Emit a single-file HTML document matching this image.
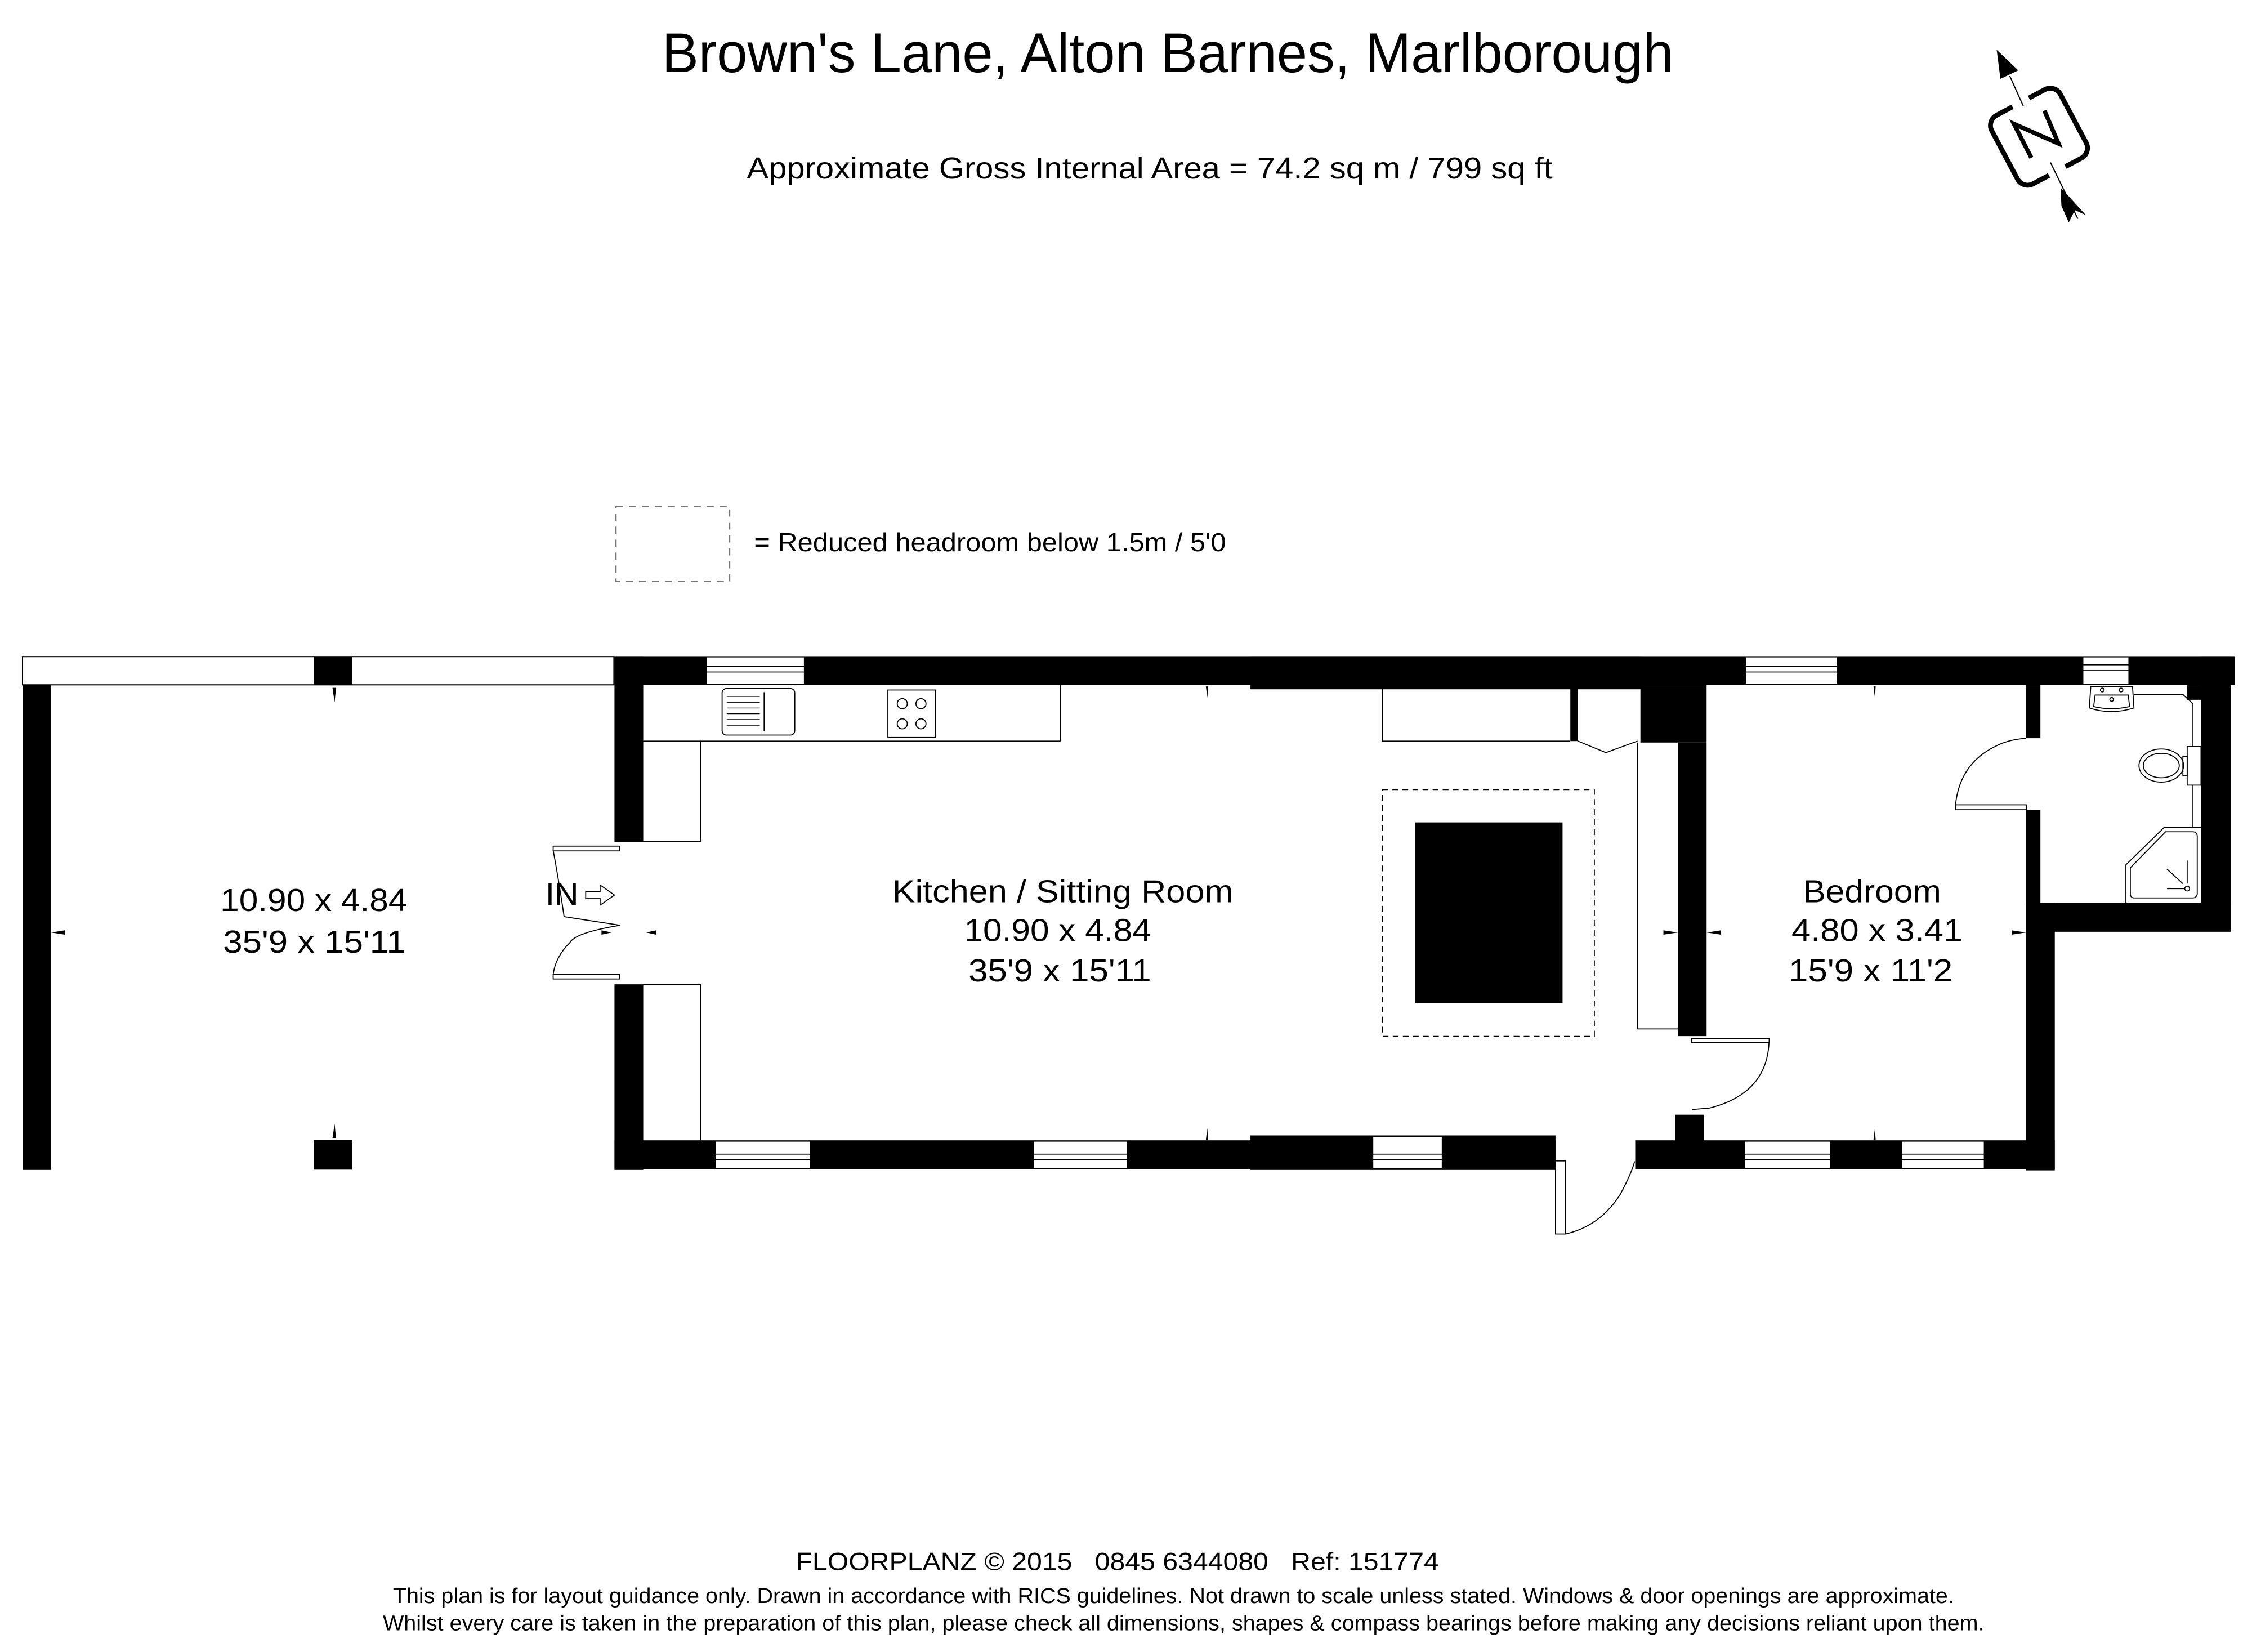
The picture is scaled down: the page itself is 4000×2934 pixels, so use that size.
<!DOCTYPE html>
<html><head><meta charset="utf-8"><style>html,body{margin:0;padding:0;background:#fff}svg{display:block}</style></head>
<body>
<svg width="4000" height="2934" viewBox="0 0 1565 1148" xmlns="http://www.w3.org/2000/svg" font-family="Liberation Sans, Arial, sans-serif">
<rect width="1565" height="1148" fill="#fff"/>
<text x="460" y="50" font-size="39" textLength="703" lengthAdjust="spacingAndGlyphs">Brown's Lane, Alton Barnes, Marlborough</text>
<text x="519" y="124" font-size="21" textLength="560" lengthAdjust="spacingAndGlyphs">Approximate Gross Internal Area = 74.2 sq m / 799 sq ft</text>
<rect x="428" y="352" width="79" height="52" fill="none" stroke="#777" stroke-width="1" stroke-dasharray="5,4"/>
<text x="524" y="383" font-size="18" textLength="328" lengthAdjust="spacingAndGlyphs">= Reduced headroom below 1.5m / 5'0</text>
<g fill="#000" stroke="none">
<polygon points="1387.6,34.6 1390.2,54.8 1402.6,48.9"/>
<polygon points="1432,130.5 1435.8,134.3 1449.5,149.4 1442,146 1437.7,154.6 1432.6,143"/>
</g>
<g stroke="#000" fill="none">
<line x1="1396.7" y1="52.8" x2="1406.1" y2="73.7" stroke-width="0.8"/>
<line x1="1425" y1="112.9" x2="1444" y2="152" stroke-width="0.8"/>
<g transform="translate(1417 95) rotate(-28)" stroke-width="3.4">
<path d="M-6.5,-27 H-19 a8,8 0 0 0 -8,8 V19 a8,8 0 0 0 8,8 H-6.5"/>
<path d="M6.5,-27 H19 a8,8 0 0 1 8,8 V19 a8,8 0 0 1 -8,8 H6.5"/>
</g>
<polyline points="1411.7,109.6 1399.6,86.1 1430.6,99.8 1420.8,76.9" stroke-width="3"/>
</g>
<g fill="#000">
<rect x="15.6" y="476" width="19.6" height="337"/>
<rect x="218" y="456.3" width="26.6" height="19.6"/>
<rect x="218" y="792.3" width="26.6" height="20.5"/>
</g>
<rect x="15.6" y="456.3" width="411" height="19.6" fill="none" stroke="#000" stroke-width="0.8"/>
<g fill="#000">
<rect x="427" y="456" width="1126" height="20"/>
<rect x="869" y="456" width="272" height="23"/>
<rect x="427" y="456" width="20" height="129"/>
<rect x="427" y="684" width="20" height="129"/>
<rect x="427" y="792.4" width="654" height="20"/>
<rect x="869" y="789" width="212" height="24"/>
<rect x="1136.4" y="792.4" width="291.6" height="20"/>
<rect x="1140" y="476" width="46" height="40"/>
<rect x="1166" y="516" width="20" height="204"/>
<rect x="1164" y="774.6" width="20" height="20"/>
<rect x="1408" y="476" width="10" height="37"/>
<rect x="1408" y="562.7" width="10" height="70"/>
<rect x="1408" y="627.3" width="20" height="186"/>
<rect x="1408" y="627.3" width="142.2" height="20.2"/>
<rect x="1529.6" y="456" width="20.6" height="191"/>
<rect x="1520" y="476" width="12" height="10.3"/>
<rect x="1091.3" y="476" width="5.3" height="39"/>
<rect x="983.5" y="571.5" width="102.4" height="125.5"/>
</g>
<g fill="#fff" stroke="#000" stroke-width="0.7">
<rect x="491" y="456.5" width="68" height="19"/>
<rect x="1213" y="456.5" width="64" height="19"/>
<rect x="1447.5" y="456.5" width="32" height="19"/>
<rect x="497" y="793" width="66" height="19"/>
<rect x="718" y="793" width="65.4" height="19"/>
<rect x="954" y="790" width="48.3" height="22"/>
<rect x="1212.5" y="793" width="59.5" height="19"/>
<rect x="1321.7" y="793" width="57.3" height="19"/>
</g>
<g stroke="#000" stroke-width="0.7" fill="none">
<line x1="491" y1="463" x2="559" y2="463"/><line x1="491" y1="467" x2="559" y2="467"/>
<line x1="1213" y1="463" x2="1277" y2="463"/><line x1="1213" y1="467" x2="1277" y2="467"/>
<line x1="1447.5" y1="462" x2="1479.5" y2="462"/><line x1="1447.5" y1="466" x2="1479.5" y2="466"/>
<line x1="497" y1="802" x2="563" y2="802"/><line x1="497" y1="806" x2="563" y2="806"/>
<line x1="718" y1="802" x2="783" y2="802"/><line x1="718" y1="806" x2="783" y2="806"/>
<line x1="954" y1="802" x2="1002" y2="802"/><line x1="954" y1="806" x2="1002" y2="806"/>
<line x1="1212.5" y1="802" x2="1272" y2="802"/><line x1="1212.5" y1="806" x2="1272" y2="806"/>
<line x1="1321.7" y1="802" x2="1379" y2="802"/><line x1="1321.7" y1="806" x2="1379" y2="806"/>
<polyline points="447,515 487,515 487,584.6 447,584.6"/>
<line x1="487" y1="515" x2="737" y2="515"/>
<line x1="737" y1="476" x2="737" y2="515"/>
<polyline points="447,684 487,684 487,792.4"/>
<rect x="501.8" y="478.5" width="50.5" height="32.3" rx="3"/>
<line x1="531" y1="481" x2="531" y2="508"/>
<g stroke-width="0.5">
<line x1="505" y1="484" x2="528" y2="484"/><line x1="505" y1="488" x2="528" y2="488"/><line x1="505" y1="492" x2="528" y2="492"/><line x1="505" y1="496" x2="528" y2="496"/><line x1="505" y1="500" x2="528" y2="500"/><line x1="505" y1="504" x2="528" y2="504"/>
</g>
<rect x="617" y="479.5" width="33" height="33"/>
<circle cx="627" cy="489" r="3.5"/><circle cx="640" cy="489" r="3.5"/><circle cx="627" cy="503" r="3.5"/><circle cx="640" cy="503" r="3.5"/>
<polyline points="960.6,476 960.6,515 1091,515"/>
<polyline points="1096.6,515 1116,523 1138,515"/>
<rect x="960.6" y="548.7" width="147.4" height="171.5" stroke-dasharray="4,3"/>
<line x1="1138" y1="516" x2="1138" y2="715"/>
<line x1="1138" y1="715" x2="1166" y2="715"/>
<rect x="384.4" y="588" width="46.3" height="3.3"/>
<rect x="384.4" y="677" width="46.3" height="3.3"/>
<path d="M384.4,591 Q388,610 392,637 L431,643 Q400,648 396,655 Q386,665 384.4,677"/>
<rect x="1175.5" y="721.6" width="54" height="2.7"/>
<path d="M1229.4,724 Q1228,760 1188,770 L1176,771"/>
<rect x="1081" y="806.7" width="7" height="50.8"/>
<path d="M1088,857.5 Q1112,852 1126,830 Q1134,815 1136,807"/>
<rect x="1359" y="559.3" width="49.5" height="3.4"/>
<path d="M1359,559.3 Q1362,530 1388,518 Q1396,514 1408,513"/>
<path d="M1453,477 L1452,492 Q1467,497 1483,492 L1482,477 Z"/>
<path d="M1456,483 L1455,491 Q1467,494 1480,491 L1479,483 Z"/>
<circle cx="1461" cy="479.5" r="1.3"/><circle cx="1474" cy="479.5" r="1.3"/><circle cx="1467.5" cy="486" r="1.3"/>
<polyline points="1483,482.6 1517,482.6 1524,489 1524,518.8"/>
<line x1="1524" y1="545.6" x2="1524" y2="574.8"/>
<rect x="1520" y="518.8" width="9.6" height="26.8"/>
<rect x="1517" y="525.5" width="3" height="13.3"/>
<ellipse cx="1502" cy="532" rx="15.5" ry="11.5"/>
<ellipse cx="1502" cy="532" rx="12.5" ry="8.5"/>
<polyline points="1477.4,627.3 1477.4,601 1504.2,574.8 1529.6,574.8"/>
<path d="M1480.5,603 L1505,578 H1524 a3,3 0 0 1 3,3 V621 a3,3 0 0 1 -3,3 H1483 a2.5,2.5 0 0 1 -2.5,-2.5 Z"/>
<line x1="1520" y1="598" x2="1520" y2="614"/>
<line x1="1506" y1="617.5" x2="1518" y2="617.5"/>
<line x1="1506" y1="604" x2="1517" y2="614"/>
<circle cx="1520" cy="617.5" r="1.7"/>
</g>
<g fill="#000">
<polygon points="231,478 233.5,478 232.5,488"/>
<polygon points="231,791 233.5,791 232.5,781"/>
<polygon points="35.5,648 45,646.5 45,649.5"/>
<polygon points="838,477 839.5,477 839,485"/>
<polygon points="838,792 839.5,792 839,784"/>
<polygon points="1302,477 1303.5,477 1303,485"/>
<polygon points="1302,792 1303.5,792 1303,784"/>
<polygon points="1156,646.5 1156,649.5 1166,648"/>
<polygon points="1196,646.5 1196,649.5 1186,648"/>
<polygon points="1398,646.5 1398,649.5 1408,648"/>
<polygon points="418,646.5 418,649.5 425,648"/>
<polygon points="456,646.5 456,649.5 449,648"/>
</g>
<g stroke="#000" stroke-width="0.7" fill="#fff">
<polygon points="407,619.5 417,619.5 417,615 427,622 417,629 417,624.5 407,624.5"/>
</g>
<g font-size="22" fill="#000">
<text x="153" y="633" textLength="130" lengthAdjust="spacingAndGlyphs">10.90 x 4.84</text>
<text x="155" y="662" textLength="127" lengthAdjust="spacingAndGlyphs">35'9 x 15'11</text>
<text x="379" y="629" textLength="23" lengthAdjust="spacingAndGlyphs">IN</text>
<text x="620" y="627" textLength="237" lengthAdjust="spacingAndGlyphs">Kitchen / Sitting Room</text>
<text x="670" y="654" textLength="130" lengthAdjust="spacingAndGlyphs">10.90 x 4.84</text>
<text x="673" y="682" textLength="127" lengthAdjust="spacingAndGlyphs">35'9 x 15'11</text>
<text x="1253" y="627" textLength="96" lengthAdjust="spacingAndGlyphs">Bedroom</text>
<text x="1245" y="654" textLength="119" lengthAdjust="spacingAndGlyphs">4.80 x 3.41</text>
<text x="1243" y="682" textLength="114" lengthAdjust="spacingAndGlyphs">15'9 x 11'2</text>
</g>
<text x="553" y="1091" font-size="17.5" textLength="447" lengthAdjust="spacingAndGlyphs" xml:space="preserve">FLOORPLANZ © 2015   0845 6344080   Ref: 151774</text>
<text x="273" y="1114" font-size="15" textLength="1085" lengthAdjust="spacingAndGlyphs">This plan is for layout guidance only. Drawn in accordance with RICS guidelines. Not drawn to scale unless stated. Windows &amp; door openings are approximate.</text>
<text x="266" y="1133" font-size="15" textLength="1113" lengthAdjust="spacingAndGlyphs">Whilst every care is taken in the preparation of this plan, please check all dimensions, shapes &amp; compass bearings before making any decisions reliant upon them.</text>
</svg>
</body></html>
